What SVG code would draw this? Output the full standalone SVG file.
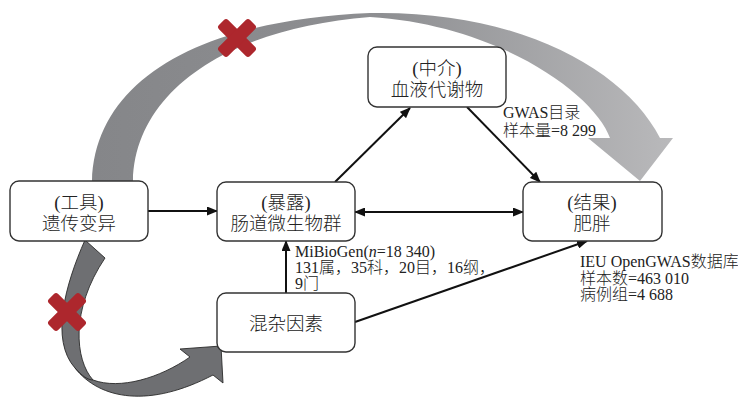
<svg xmlns="http://www.w3.org/2000/svg" width="738" height="401" viewBox="0 0 738 401">
<defs>
<style>
.box{fill:#fff;stroke:#333;stroke-width:1.4}
.nt{font-family:"Liberation Serif","Noto Sans CJK SC",serif;font-weight:300;font-size:18.5px;fill:#222;text-anchor:middle}
.lb{font-family:"Liberation Serif","Noto Sans CJK SC",serif;font-weight:300;font-size:16px;fill:#222}
.ln{stroke:#111;stroke-width:2;fill:none}
.x{fill:#ad272d}
</style>
<linearGradient id="gt" x1="0" y1="0" x2="1" y2="0">
<stop offset="0" stop-color="#858689"/>
<stop offset="0.5" stop-color="#8e8f92"/>
<stop offset="1" stop-color="#b9b9bb"/>
</linearGradient>
<marker id="ah" markerUnits="userSpaceOnUse" markerWidth="11" markerHeight="9" refX="10" refY="4.5" orient="auto-start-reverse">
<path d="M0,0 L11,4.5 L0,9 z" fill="#111"/>
</marker>
</defs>

<g id="big-arrows">
<path d="M92,181 C95,80 200,20 370,13 C520,10 625,70 660,138 L673,138 L640,181 L588,138 L610,138 C595,95 500,25 370,17 C230,28 135,90 133,181 Z" fill="url(#gt)"/>
<path d="M85,240 C65,285 50,340 75,368 C100,400 150,408 213,375 L223,383 L221,346 L180,349 L190,357 C160,378 120,390 93,380 C75,360 70,310 105,258 Z" fill="#6e6f72" stroke="#2a2a2a" stroke-width="0.9" stroke-linejoin="miter"/>
<path d="M75,368 C82,376 88,380 93,380" fill="none" stroke="#2a2a2a" stroke-width="0.9"/>
</g>

<g id="crosses">
<g transform="translate(237,38) rotate(45)"><rect class="x" x="-22" y="-6.5" width="44" height="13" rx="3"/><rect class="x" x="-6.5" y="-22" width="13" height="44" rx="3"/></g>
<g transform="translate(67,312) rotate(45)"><rect class="x" x="-22" y="-6.5" width="44" height="13" rx="3"/><rect class="x" x="-6.5" y="-22" width="13" height="44" rx="3"/></g>
</g>

<g id="connectors">
<line class="ln" x1="148" y1="211" x2="217" y2="211" marker-end="url(#ah)"/>
<line class="ln" x1="335" y1="182" x2="410" y2="108" marker-end="url(#ah)"/>
<line class="ln" x1="467" y1="107" x2="540" y2="182" marker-end="url(#ah)"/>
<line class="ln" x1="355" y1="212" x2="523" y2="212" marker-start="url(#ah)" marker-end="url(#ah)"/>
<line class="ln" x1="286" y1="293" x2="286" y2="241" marker-end="url(#ah)"/>
<line class="ln" x1="355" y1="322" x2="587" y2="241" marker-end="url(#ah)"/>
</g>

<g id="node-tool">
<rect class="box" x="10" y="181" width="138" height="60" rx="9"/>
<text class="nt" x="79" y="209">(工具)</text>
<text class="nt" x="79" y="230">遗传变异</text>
</g>
<g id="node-exposure">
<rect class="box" x="217" y="182" width="138" height="59" rx="9"/>
<text class="nt" x="286" y="209">(暴露)</text>
<text class="nt" x="286" y="230">肠道微生物群</text>
</g>
<g id="node-mediator">
<rect class="box" x="368" y="47" width="138" height="60" rx="9"/>
<text class="nt" x="437" y="75">(中介)</text>
<text class="nt" x="437" y="96">血液代谢物</text>
</g>
<g id="node-outcome">
<rect class="box" x="523" y="182" width="139" height="59" rx="9"/>
<text class="nt" x="592" y="209">(结果)</text>
<text class="nt" x="592" y="230">肥胖</text>
</g>
<g id="node-confounder">
<rect class="box" x="217" y="293" width="138" height="59" rx="9"/>
<text class="nt" x="286" y="330">混杂因素</text>
</g>

<g id="labels">
<text class="lb" x="503" y="118">GWAS目录</text>
<text class="lb" x="503" y="136">样本量=8 299</text>
<text class="lb" x="295" y="257">MiBioGen(<tspan font-style="italic">n</tspan>=18 340)</text>
<text class="lb" x="295" y="273">131属，35科，20目，16纲，</text>
<text class="lb" x="295" y="289">9门</text>
<text class="lb" x="580" y="267">IEU OpenGWAS数据库</text>
<text class="lb" x="580" y="284">样本数=463 010</text>
<text class="lb" x="580" y="300">病例组=4 688</text>
</g>
</svg>
